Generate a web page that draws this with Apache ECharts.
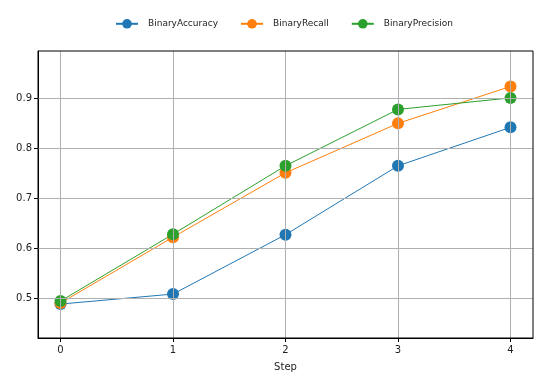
<!DOCTYPE html>
<html><head><meta charset="utf-8">
<script src="https://cdn.jsdelivr.net/npm/echarts@6/dist/echarts.min.js"></script>
<style>html,body{margin:0;padding:0;background:#fff}#c{width:544px;height:384px}</style>
</head><body><div id="c"></div>
<script>
const steps = [0, 1, 2, 3, 4];
const binaryAccuracy = [0.488, 0.508, 0.627, 0.765, 0.842];
const binaryRecall = [0.490, 0.622, 0.751, 0.850, 0.924];
const binaryPrecision = [0.494, 0.628, 0.765, 0.878, 0.901];
const xTicks = [0, 1, 2, 3, 4];
const yTicks = [0.5, 0.6, 0.7, 0.8, 0.9];

const font = 'DejaVu Sans';
const colors = ['#1f77b4', '#ff7f0e', '#2ca02c'];
function mk(name, vals, color) {
  return {
    name, type: 'line', data: steps.map((s, i) => [s, vals[i]]),
    symbol: 'circle', symbolSize: 12, color,
    lineStyle: { width: 1, color }, itemStyle: { color },
    emphasis: { disabled: true }, animation: false
  };
}
const chart = echarts.init(document.getElementById('c'), null, { renderer: 'canvas' });
chart.setOption({
  animation: false,
  textStyle: { fontFamily: font },
  grid: { left: 38, right: 11, top: 51, bottom: 46 },
  legend: {
    top: 14, left: 110, itemWidth: 22, itemHeight: 12, itemGap: 22,
    textStyle: { fontFamily: font, fontSize: 9, color: '#222', padding: [0, 0, 0, 5] },
    data: ['BinaryAccuracy', 'BinaryRecall', 'BinaryPrecision']
  },
  xAxis: {
    type: 'value', min: -0.2, max: 4.2,
    name: 'Step', nameLocation: 'middle', nameGap: 24,
    nameTextStyle: { fontFamily: font, fontSize: 10, color: '#222' },
    axisLine: { show: true, onZero: false, lineStyle: { color: '#000', width: 1 } },
    axisTick: { show: true, length: 4, customValues: xTicks, lineStyle: { color: '#000' } },
    axisLabel: { customValues: xTicks, fontFamily: font, fontSize: 10, color: '#222', margin: 7 },
    splitLine: { show: false }
  },
  yAxis: {
    type: 'value', min: 0.42, max: 0.995,
    axisLine: { show: true, onZero: false, lineStyle: { color: '#000', width: 1 } },
    axisTick: { show: true, length: 4, customValues: yTicks, lineStyle: { color: '#000' } },
    axisLabel: { customValues: yTicks, fontFamily: font, fontSize: 10, color: '#222', margin: 6,
      formatter: v => v.toFixed(1) },
    splitLine: { show: false }
  },
  series: [
    {
      type: 'line', data: [], silent: true,
      markLine: {
        silent: true, symbol: 'none', animation: false,
        label: { show: false },
        lineStyle: { color: '#b0b0b0', width: 1, type: 'solid' },
        data: xTicks.map(v => ({ xAxis: v })).concat(yTicks.map(v => ({ yAxis: v })))
      }
    },
    mk('BinaryAccuracy', binaryAccuracy, colors[0]),
    mk('BinaryRecall', binaryRecall, colors[1]),
    mk('BinaryPrecision', binaryPrecision, colors[2])
  ]
});
chart.setOption({
  graphic: [{
    type: 'rect', z: 100, silent: true,
    shape: { x: 38, y: 51, width: 544 - 38 - 11, height: 384 - 51 - 46 },
    style: { fill: 'none', stroke: '#000', lineWidth: 1 }
  }]
});
</script></body></html>
